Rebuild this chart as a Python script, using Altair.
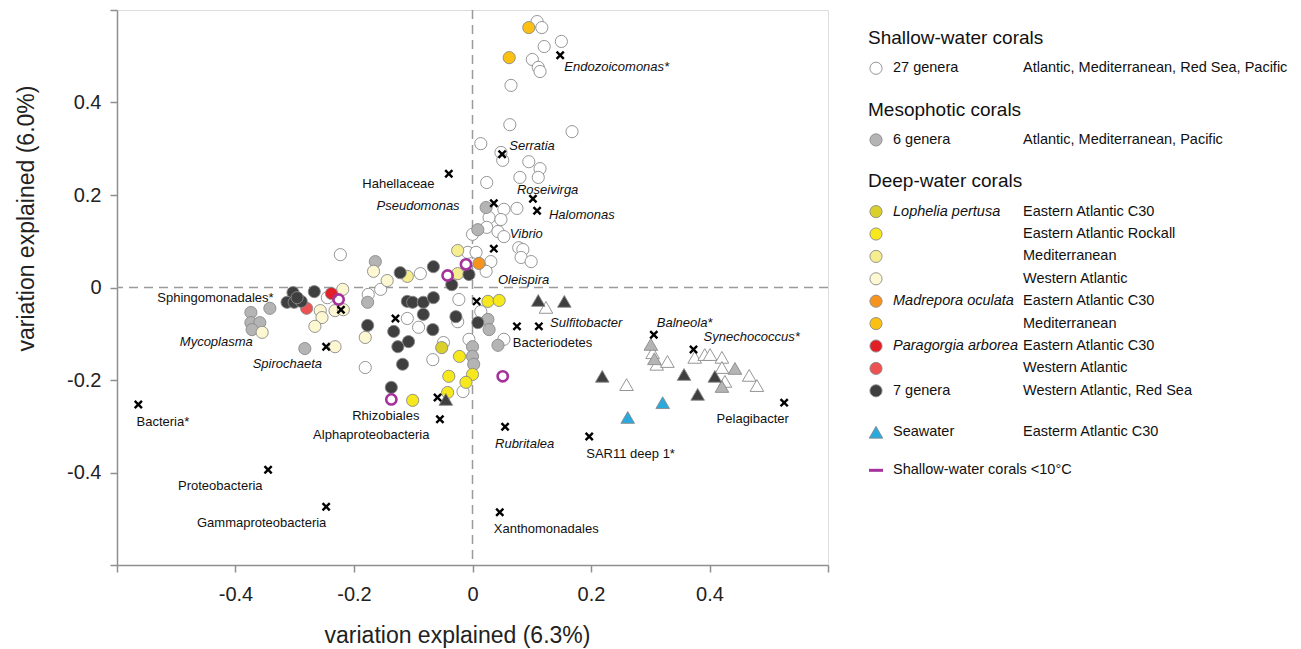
import altair as alt
import pandas as pd

FONT = "Liberation Sans"

# ---------------- groups & colours ----------------
GROUPS = ["Shallow", "Mesophotic", "Lophelia C30", "Lophelia Rockall", "Lophelia Med",
          "Lophelia WA", "Madrepora C30", "Madrepora Med", "Paragorgia C30",
          "Paragorgia WA", "7 genera", "Seawater"]
FILLS = ["#ffffff", "#b4b4b4", "#d9d02b", "#f6e81c", "#f6ee8e", "#fdf7d2",
         "#f7941e", "#fbc012", "#e21f26", "#ed5152", "#3f3f3f", "#2aa9dd"]

# ---------------- sample scores (circles) ----------------
shallow_x = [0.109, 0.117, 0.150, 0.121, 0.101, 0.111, 0.114, 0.065, 0.063, 0.168,
             0.014, 0.048, 0.051, 0.095, 0.114, 0.080, 0.111, 0.024, 0.053, 0.075,
             0.028, 0.048, 0.000, 0.024, 0.043, 0.053, 0.078, 0.085, -0.008, 0.006,
             0.031, 0.082, 0.099, 0.023, -0.023, -0.223, -0.088, -0.155, -0.176, -0.110,
             -0.091, -0.049, -0.006, -0.067, -0.181, -0.016, 0.053, -0.245, 0.014, -0.025]
shallow_y = [0.575, 0.562, 0.532, 0.521, 0.493, 0.476, 0.467, 0.437, 0.352, 0.337,
             0.311, 0.292, 0.275, 0.272, 0.257, 0.238, 0.238, 0.227, 0.169, 0.171,
             0.151, 0.147, 0.115, 0.130, 0.121, 0.110, 0.086, 0.082, 0.076, 0.076,
             0.056, 0.065, 0.056, 0.035, -0.026, 0.071, 0.030, -0.004, -0.015, -0.067,
             -0.086, -0.119, -0.112, -0.156, -0.173, -0.225, -0.112, -0.022, -0.052, -0.074]

meso_x = [0.023, 0.009, -0.164, -0.177, -0.374, -0.342, -0.374, -0.359, -0.372, -0.283,
          0.026, 0.028, 0.043, 0.000, 0.000, 0.002]
meso_y = [0.173, 0.125, 0.056, -0.032, -0.054, -0.045, -0.076, -0.076, -0.091, -0.132,
          -0.069, -0.091, -0.125, -0.128, -0.149, -0.166]

lwa_x = [-0.219, -0.257, -0.232, -0.254, -0.266, -0.218, -0.355, -0.232, -0.181, -0.167, -0.144]
lwa_y = [-0.004, -0.050, -0.050, -0.065, -0.084, -0.048, -0.097, -0.128, -0.108, 0.035, 0.015]

lmed_x = [-0.110, -0.025, -0.025]
lmed_y = [0.024, 0.080, 0.030]

lrock_x = [0.026, 0.045, -0.022, -0.040, 0.000, -0.011, -0.042, -0.101]
lrock_y = [-0.030, -0.028, -0.149, -0.192, -0.188, -0.205, -0.227, -0.244]

lc30_x = [-0.052]
lc30_y = [-0.130]

mc30_x = [0.011]
mc30_y = [0.052]

mmed_x = [0.095, 0.062]
mmed_y = [0.562, 0.497]

pc30_x = [-0.238]
pc30_y = [-0.013]

pwa_x = [-0.280]
pwa_y = [-0.045]

dark_x = [-0.303, -0.313, -0.301, -0.289, -0.267, -0.296, -0.122, -0.066, -0.035, -0.006,
          -0.110, -0.101, -0.083, -0.066, -0.083, -0.067, -0.133, -0.028, 0.009, -0.177,
          -0.108, -0.126, -0.118, -0.137]
dark_y = [-0.011, -0.032, -0.032, -0.030, -0.009, -0.022, 0.032, 0.045, 0.006, 0.028,
          -0.030, -0.032, -0.032, -0.022, -0.058, -0.091, -0.095, -0.063, -0.076, -0.082,
          -0.117, -0.128, -0.166, -0.216]

# ---------------- sample scores (triangles) ----------------
triw_x = [0.124, 0.260, 0.304, 0.311, 0.329, 0.375, 0.392, 0.401, 0.421, 0.421, 0.426, 0.467, 0.480]
triw_y = [-0.043, -0.210, -0.141, -0.166, -0.160, -0.151, -0.145, -0.145, -0.151, -0.173, -0.203, -0.190, -0.212]
trig_x = [0.301, 0.307, 0.443, 0.421]
trig_y = [-0.123, -0.154, -0.175, -0.214]
trid_x = [0.111, 0.155, 0.219, 0.357, 0.380, 0.409, -0.045]
trid_y = [-0.028, -0.030, -0.192, -0.188, -0.231, -0.192, -0.242]
trib_x = [0.321, 0.262]
trib_y = [-0.249, -0.281]

# shallow-water corals < 10 C (rings)
cold_x = [-0.226, -0.042, -0.011, 0.051, -0.137]
cold_y = [-0.026, 0.026, 0.050, -0.192, -0.242]

# ---------------- taxa (crosses) ----------------
taxa = ["Endozoicomonas*", "Serratia", "Hahellaceae", "Pseudomonas", "Roseivirga", "Halomonas",
        "Vibrio", "Oleispira", "Sphingomonadales*", "Mycoplasma", "Spirochaeta", "Sulfitobacter",
        "Bacteriodetes", "Balneola*", "Synechococcus*", "Pelagibacter", "SAR11 deep 1*",
        "Rubritalea", "Xanthomonadales", "Rhizobiales", "Alphaproteobacteria", "Bacteria*",
        "Proteobacteria", "Gammaproteobacteria"]
taxa_italic = [True, True, False, True, True, True, True, True, False, True, True, True,
               False, True, True, False, False, True, False, False, False, False, False, False]
taxa_x = [0.148, 0.050, -0.040, 0.036, 0.102, 0.109, 0.036, 0.007, -0.222, -0.130, -0.247, 0.112,
          0.075, 0.306, 0.373, 0.526, 0.197, 0.055, 0.046, -0.059, -0.055, -0.564, -0.345, -0.247]
taxa_y = [0.502, 0.288, 0.246, 0.182, 0.192, 0.166, 0.084, -0.030, -0.048, -0.067, -0.128, -0.084,
          -0.084, -0.102, -0.134, -0.249, -0.322, -0.301, -0.486, -0.238, -0.285, -0.253, -0.394, -0.474]
label_x = [0.155, 0.062, -0.186, -0.162, 0.075, 0.129, 0.063, 0.043, -0.532, -0.494, -0.371, 0.131,
           0.068, 0.311, 0.390, 0.412, 0.192, 0.038, 0.036, -0.203, -0.269, -0.567, -0.497, -0.465]
label_y = [0.476, 0.305, 0.223, 0.177, 0.210, 0.156, 0.115, 0.017, -0.022, -0.117, -0.166, -0.076,
           -0.121, -0.076, -0.108, -0.285, -0.361, -0.339, -0.523, -0.277, -0.318, -0.290, -0.430, -0.510]

# ---------------- legend content ----------------
leg_headings = ["Shallow-water corals", "Mesophotic corals", "Deep-water corals"]
leg_section = [0, 1, 2, 2, 2, 2, 2, 2, 2, 2, 2, 3]
leg_group = ["Shallow", "Mesophotic", "Lophelia C30", "Lophelia Rockall", "Lophelia Med",
             "Lophelia WA", "Madrepora C30", "Madrepora Med", "Paragorgia C30",
             "Paragorgia WA", "7 genera", "Seawater"]
leg_shape = ["circle"] * 11 + ["triangle"]
leg_col1 = ["27 genera", "6 genera", "Lophelia pertusa", "", "", "", "Madrepora oculata", "",
            "Paragorgia arborea", "", "7 genera", "Seawater"]
leg_col1_italic = [False, False, True, False, False, False, True, False, True, False, False, False]
leg_col2 = ["Atlantic, Mediterranean, Red Sea, Pacific", "Atlantic, Mediterranean, Pacific",
            "Eastern Atlantic C30", "Eastern Atlantic Rockall", "Mediterranean", "Western Atlantic",
            "Eastern Atlantic C30", "Mediterranean", "Eastern Atlantic C30", "Western Atlantic",
            "Western Atlantic, Red Sea", "Easterm Atlantic C30"]
leg_cold_label = "Shallow-water corals <10\u00b0C"

# ---------------- build tables ----------------
def frame(group, shape, xs, ys):
    return pd.DataFrame({"x": xs, "y": ys, "group": group, "shape": shape})

pts = pd.concat([
    frame("Shallow", "circle", shallow_x, shallow_y),
    frame("Mesophotic", "circle", meso_x, meso_y),
    frame("Lophelia WA", "circle", lwa_x, lwa_y),
    frame("Lophelia Med", "circle", lmed_x, lmed_y),
    frame("Madrepora C30", "circle", mc30_x, mc30_y),
    frame("Madrepora Med", "circle", mmed_x, mmed_y),
    frame("Paragorgia C30", "circle", pc30_x, pc30_y),
    frame("Paragorgia WA", "circle", pwa_x, pwa_y),
    frame("7 genera", "circle", dark_x, dark_y),
    frame("Lophelia C30", "circle", lc30_x, lc30_y),
    frame("Lophelia Rockall", "circle", lrock_x, lrock_y),
    frame("Shallow", "triangle", triw_x, triw_y),
    frame("Mesophotic", "triangle", trig_x, trig_y),
    frame("7 genera", "triangle", trid_x, trid_y),
    frame("Seawater", "triangle", trib_x, trib_y),
], ignore_index=True)
circ_df = pts[pts["shape"] == "circle"]
tri_df = pts[pts["shape"] == "triangle"]
cold_df = pd.DataFrame({"x": cold_x, "y": cold_y})
taxa_df = pd.DataFrame({"x": taxa_x, "y": taxa_y, "name": taxa})
lab_df = pd.DataFrame({"x": label_x, "y": label_y, "name": taxa, "italic": taxa_italic})

# legend layout (vertical cursor in row units)
HEAD_TO_ITEM, ITEM_TO_ITEM, SECTION_GAP, LAST_GAP = 1.35, 1.0, 1.85, 1.7
head_rows, item_rows = [], []
cursor = 0.0
prev_section = None
for i, sec in enumerate(leg_section):
    if sec != prev_section:
        if sec < len(leg_headings):
            if prev_section is not None:
                cursor += SECTION_GAP
            head_rows.append({"lx": 0, "ly": cursor, "text": leg_headings[sec]})
            cursor += HEAD_TO_ITEM
        else:
            cursor += SECTION_GAP
    else:
        cursor += ITEM_TO_ITEM
    item_rows.append({"ly": cursor, "group": leg_group[i], "shape": leg_shape[i],
                      "col1": leg_col1[i], "italic": leg_col1_italic[i], "col2": leg_col2[i]})
    prev_section = sec
cold_row_y = cursor + LAST_GAP

MARK_X, COL1_X, COL2_X = 8, 25, 155
head_df = pd.DataFrame(head_rows)
items_df = pd.DataFrame(item_rows)
items_df["mx"] = MARK_X
items_df["c1x"] = COL1_X
items_df["c2x"] = COL2_X
cold_leg_df = pd.DataFrame({"mx": [MARK_X], "c1x": [COL1_X], "ly": [cold_row_y], "text": [leg_cold_label]})

# ---------------- scales / axes ----------------
AX = "#8f8f8f"
label_expr = ("abs(datum.value) > 0.5 ? '' : datum.value == 0 ? '0' : "
              "(datum.value < 0 ? '-' : '') + format(abs(datum.value), '.1f')")
TICKS = [-0.6, -0.4, -0.2, 0, 0.2, 0.4, 0.6]
X = alt.X("x:Q", scale=alt.Scale(domain=[-0.6, 0.6], nice=False, zero=False),
          title="variation explained (6.3%)",
          axis=alt.Axis(values=TICKS, labelExpr=label_expr, grid=False, domainColor=AX,
                        domainWidth=1.5, tickColor=AX, tickWidth=1.5, tickSize=7,
                        labelFont=FONT, labelFontSize=20, labelColor="#222", labelPadding=12,
                        labelFlush=False, titleFont=FONT, titleFontSize=23,
                        titleFontWeight="normal", titleColor="#222", titleX=340, titleY=77,
                        titleBaseline="alphabetic", titleAlign="center"))
Y = alt.Y("y:Q", scale=alt.Scale(domain=[-0.6, 0.6], nice=False, zero=False),
          title="variation explained (6.0%)",
          axis=alt.Axis(values=TICKS, labelExpr=label_expr, grid=False, domainColor=AX,
                        domainWidth=1.5, tickColor=AX, tickWidth=1.5, tickSize=7,
                        labelFont=FONT, labelFontSize=20, labelColor="#222", labelPadding=9,
                        labelFlush=False, titleFont=FONT, titleFontSize=23,
                        titleFontWeight="normal", titleColor="#222", titleX=-84, titleY=208,
                        titleBaseline="alphabetic", titleAlign="center", titleAngle=270))
FILL = alt.Fill("group:N", scale=alt.Scale(domain=GROUPS, range=FILLS), legend=None)

LSCALE = alt.Scale(domain=[0, 430], range=[751, 1181])
LX = alt.X("lx:Q", scale=LSCALE, axis=None)
MX = alt.X("mx:Q", scale=LSCALE, axis=None)
C1X = alt.X("c1x:Q", scale=LSCALE, axis=None)
C2X = alt.X("c2x:Q", scale=LSCALE, axis=None)
LY = alt.Y("ly:Q", scale=alt.Scale(domain=[0, 20], range=[28, 476]), axis=None)

SIZE_C, SIZE_T = 148, 185
STROKE = "#8a8a8a"

# ---------------- plot layers ----------------
zero_h = alt.Chart(pd.DataFrame({"y": [0]})).mark_rule(
    color="#9a9a9a", strokeWidth=1.5, strokeDash=[9, 6]).encode(y=Y)
zero_v = alt.Chart(pd.DataFrame({"x": [0]})).mark_rule(
    color="#9a9a9a", strokeWidth=1.5, strokeDash=[9, 6]).encode(x=X)

circles = alt.Chart(circ_df).mark_point(
    shape="circle", filled=True, opacity=1, size=SIZE_C, stroke=STROKE, strokeWidth=0.9
).encode(x=X, y=Y, fill=FILL)
triangles = alt.Chart(tri_df).mark_point(
    shape="triangle-up", filled=True, opacity=1, size=SIZE_T, stroke=STROKE, strokeWidth=0.9
).encode(x=X, y=Y, fill=FILL)
rings = alt.Chart(cold_df).mark_point(
    shape="circle", filled=False, opacity=1, size=105, color="#a5329c", strokeWidth=2.6
).encode(x=X, y=Y)
crosses = alt.Chart(taxa_df).mark_point(
    shape="M-1,-1L1,1M-1,1L1,-1", filled=False, opacity=1, size=52, color="#000000",
    strokeWidth=2.4
).encode(x=X, y=Y)
labels_it = alt.Chart(lab_df).transform_filter("datum.italic").mark_text(
    align="left", baseline="middle", font=FONT, fontSize=13, fontStyle="italic", color="#111"
).encode(x=X, y=Y, text="name:N")
labels_n = alt.Chart(lab_df).transform_filter("!datum.italic").mark_text(
    align="left", baseline="middle", font=FONT, fontSize=13, color="#111"
).encode(x=X, y=Y, text="name:N")

plot = alt.layer(zero_h, zero_v, circles, triangles, rings, crosses, labels_it, labels_n)

# ---------------- legend layers ----------------
leg_head = alt.Chart(head_df).mark_text(
    align="left", baseline="middle", font=FONT, fontSize=19, color="#111"
).encode(x=LX, y=LY, text="text:N")
leg_circ = alt.Chart(items_df).transform_filter("datum.shape == 'circle'").mark_point(
    shape="circle", filled=True, opacity=1, size=SIZE_C, stroke=STROKE, strokeWidth=0.9
).encode(x=MX, y=LY, fill=FILL)
leg_tri = alt.Chart(items_df).transform_filter("datum.shape == 'triangle'").mark_point(
    shape="triangle-up", filled=True, opacity=1, size=SIZE_T, stroke=STROKE, strokeWidth=0.9
).encode(x=MX, y=LY, fill=FILL)
leg_line = alt.Chart(cold_leg_df).mark_point(
    shape="stroke", filled=False, opacity=1, size=196, color="#a5329c", strokeWidth=3
).encode(x=MX, y=LY)
leg_c1_it = alt.Chart(items_df).transform_filter("datum.italic").mark_text(
    align="left", baseline="middle", font=FONT, fontSize=14.5, fontStyle="italic", color="#111"
).encode(x=C1X, y=LY, text="col1:N")
leg_c1_n = alt.Chart(items_df).transform_filter("!datum.italic").mark_text(
    align="left", baseline="middle", font=FONT, fontSize=14.5, color="#111"
).encode(x=C1X, y=LY, text="col1:N")
leg_c2 = alt.Chart(items_df).mark_text(
    align="left", baseline="middle", font=FONT, fontSize=14.5, color="#111"
).encode(x=C2X, y=LY, text="col2:N")
leg_cold = alt.Chart(cold_leg_df).mark_text(
    align="left", baseline="middle", font=FONT, fontSize=14.5, color="#111"
).encode(x=C1X, y=LY, text="text:N")

legend = alt.layer(leg_head, leg_circ, leg_tri, leg_line, leg_c1_it, leg_c1_n, leg_c2, leg_cold)

chart = alt.layer(plot, legend).resolve_scale(x="independent", y="independent").properties(
    width=711, height=555, autosize=alt.AutoSizeParams(type="none"),
    padding={"left": 109, "top": 2, "right": 464, "bottom": 83}
).configure_view(stroke="#c4c4c4", strokeWidth=1.5).configure(background="white")

chart.save("out.html", embed_options={"renderer": "svg", "actions": False})
